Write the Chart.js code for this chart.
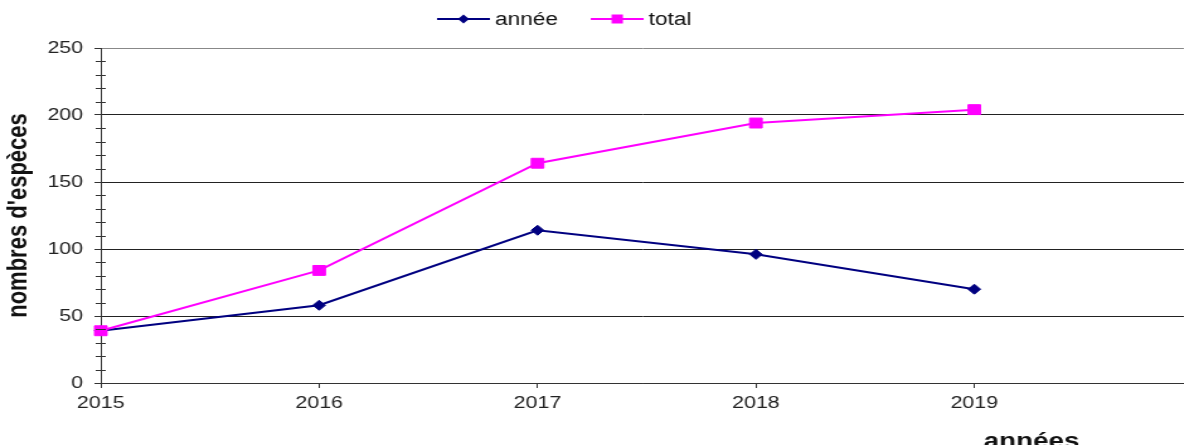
<!DOCTYPE html>
<html>
<head>
<meta charset="utf-8">
<script src="https://cdn.jsdelivr.net/npm/chart.js@4/dist/chart.umd.min.js"></script>
<style>
  html, body { margin: 0; padding: 0; background: #fff; overflow: hidden; }
  /* the original picture is stretched sideways, so draw narrow and stretch;
     the plot runs off the right edge of the picture */
  #chart { width: 1194px !important; height: 445px !important; display: block; }
</style>
</head>
<body>
<canvas id="chart" width="948" height="445"></canvas>
<script>
const years = [2015, 2016, 2017, 2018, 2019];
const annee = [39, 58, 114, 96, 70];
const total = [39, 84, 164, 194, 204];
const seriesNames = ["année", "total"];

const FONT = "'Liberation Sans', Arial, sans-serif";

// small ticks every 10 across the y axis
const minorTicks = {
  id: "minorTicks",
  afterDraw(chart) {
    const y = chart.scales.y;
    const ctx = chart.ctx;
    const x0 = chart.chartArea.left;
    ctx.save();
    ctx.strokeStyle = "#333";
    ctx.lineWidth = 1;
    for (let v = 10; v < 250; v += 10) {
      if (v % 50 === 0) continue;
      const py = Math.round(y.getPixelForValue(v)) + 0.5;
      ctx.beginPath();
      ctx.moveTo(x0 - 4, py);
      ctx.lineTo(x0 + 4, py);
      ctx.stroke();
    }
    ctx.restore();
  },
};

// legend: line with marker, then the name
const lineLegend = {
  id: "lineLegend",
  afterDraw(chart) {
    const ctx = chart.ctx;
    const cy = 19;
    let x = 347;
    ctx.save();
    ctx.font = "18px " + FONT;
    ctx.textBaseline = "middle";
    ctx.textAlign = "left";
    chart.data.datasets.forEach((ds) => {
      ctx.strokeStyle = ds.borderColor;
      ctx.fillStyle = ds.borderColor;
      ctx.lineWidth = 2;
      ctx.beginPath();
      ctx.moveTo(x, cy);
      ctx.lineTo(x + 42, cy);
      ctx.stroke();
      const mx = x + 21;
      ctx.beginPath();
      if (ds.pointStyle === "rectRot") {
        ctx.moveTo(mx - 4.5, cy);
        ctx.lineTo(mx, cy - 4.5);
        ctx.lineTo(mx + 4.5, cy);
        ctx.lineTo(mx, cy + 4.5);
        ctx.closePath();
      } else {
        ctx.rect(mx - 4.5, cy - 4.5, 9, 9);
      }
      ctx.fill();
      ctx.fillStyle = "#111";
      ctx.fillText(ds.label, x + 46, cy + 1);
      x += 46 + ctx.measureText(ds.label).width + 26;
    });
    ctx.restore();
  },
};

// x axis title sits at the lower right
const xTitle = {
  id: "xTitle",
  afterDraw(chart) {
    const ctx = chart.ctx;
    ctx.save();
    ctx.font = "bold 22px " + FONT;
    ctx.fillStyle = "#111";
    ctx.textAlign = "center";
    ctx.textBaseline = "alphabetic";
    ctx.fillText("années", 819, 448);
    ctx.restore();
  },
};

const data = {
  datasets: [
    {
      label: seriesNames[0],
      data: years.map((yr, i) => ({ x: yr, y: annee[i] })),
      borderColor: "#000080",
      backgroundColor: "#000080",
      pointStyle: "rectRot",
      pointRadius: 5,
      pointBorderWidth: 1,
      borderWidth: 2,
      tension: 0,
      clip: false,
      order: 1,
    },
    {
      label: seriesNames[1],
      data: years.map((yr, i) => ({ x: yr, y: total[i] })),
      borderColor: "#FF00FF",
      backgroundColor: "#FF00FF",
      pointStyle: "rect",
      pointRadius: 7,
      pointBorderWidth: 1,
      borderWidth: 2,
      tension: 0,
      clip: false,
      order: 0,
    },
  ],
};

const config = {
  type: "line",
  data: data,
  options: {
    responsive: false,
    animation: false,
    devicePixelRatio: 1,
    layout: { padding: { top: 48, right: 0, bottom: 0, left: 0 } },
    plugins: {
      legend: { display: false },
      tooltip: { enabled: false },
    },
    scales: {
      x: {
        type: "linear",
        min: 2015,
        max: 2019.96,
        afterBuildTicks: (scale) => {
          scale.ticks = scale.ticks.filter((t) => Number.isInteger(t.value));
        },
        afterFit: (scale) => {
          scale.height = 62;
        },
        ticks: {
          stepSize: 1,
          padding: 5,
          maxRotation: 0,
          color: "#222",
          font: { family: FONT, size: 17 },
          callback: (v) => String(v),
        },
        grid: {
          drawOnChartArea: false,
          drawTicks: true,
          tickLength: 5,
          tickColor: "#333",
        },
        border: { color: "#333", width: 1 },
      },
      y: {
        min: 0,
        max: 250,
        afterFit: (scale) => {
          scale.width = 80;
        },
        ticks: {
          stepSize: 50,
          padding: 9,
          color: "#222",
          font: { family: FONT, size: 17 },
        },
        grid: {
          color: (c) => (c.tick && c.tick.value === 250 ? "#888" : "#222"),
          lineWidth: 1,
          tickLength: 5,
          tickColor: "#333",
        },
        border: { color: "#333", width: 1 },
        title: {
          display: true,
          text: "nombres d'espèces",
          color: "#111",
          font: { family: FONT, size: 22, weight: "bold" },
          padding: { top: 2, bottom: 0 },
        },
      },
    },
  },
  plugins: [minorTicks, lineLegend, xTitle],
};

let myChart;
const cntx = document.getElementById("chart").getContext("2d");
if (myChart) myChart.destroy();
myChart = new Chart(cntx, config);
</script>
</body>
</html>
